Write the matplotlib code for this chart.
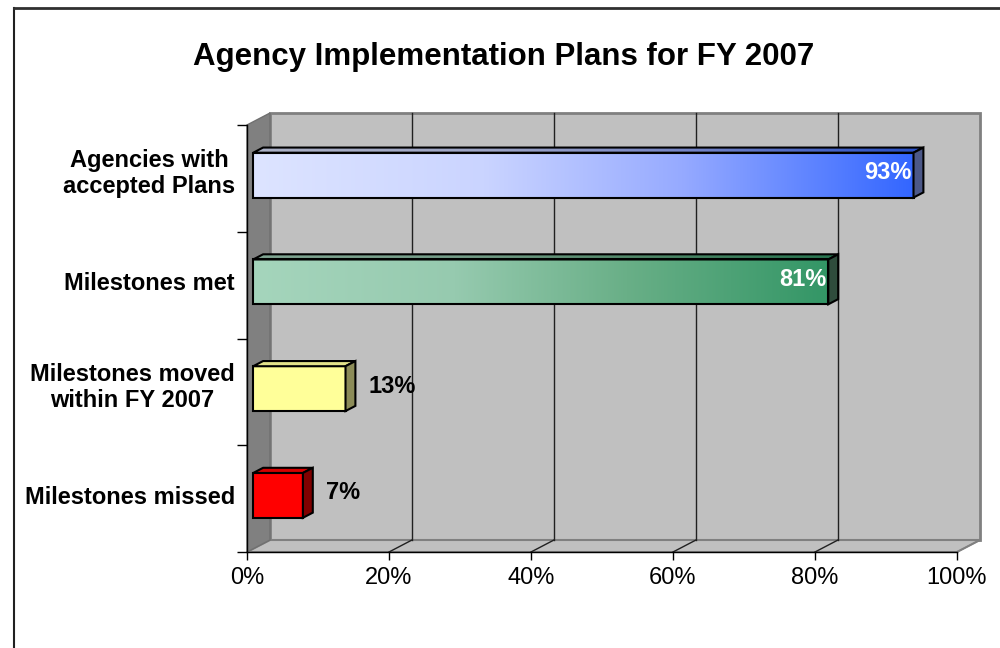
import numpy as np
import matplotlib
matplotlib.use("Agg")
import matplotlib.pyplot as plt
from matplotlib.patches import Polygon, Rectangle
from matplotlib.lines import Line2D

# ---------------- data ----------------
categories = ["Agencies with\naccepted Plans", "Milestones met",
              "Milestones moved\nwithin FY 2007", "Milestones missed"]
values = [93, 81, 13, 7]
value_labels = ["93%", "81%", "13%", "7%"]
xticks = [0, 20, 40, 60, 80, 100]
xtick_labels = ["0%", "20%", "40%", "60%", "80%", "100%"]
title = "Agency Implementation Plans for FY 2007"

# ---------------- style ----------------
plt.rcParams['font.family'] = ['Liberation Sans', 'DejaVu Sans']
W, H = 1000, 648
fig = plt.figure(figsize=(W / 100, H / 100), dpi=100)
fig.patch.set_facecolor('white')

ax = fig.add_axes([247 / W, 96 / H, 710 / W, 427 / H])
ax.patch.set_visible(False)
ncat = len(categories)
XMAX = 100

px_x = 710 / XMAX          # pixels per x unit
px_y = 427 / ncat          # pixels per category
DX = 23 / px_x             # depth offset of back wall (data units)
DY = 12 / px_y

# walls and floor
left_wall = Polygon([(0, 0), (DX, DY), (DX, ncat + DY), (0, ncat)],
                    closed=True, fc='#808080', ec='#707070', lw=1, zorder=0.5, clip_on=False)
back_wall = Polygon([(DX, DY), (XMAX + DX, DY), (XMAX + DX, ncat + DY), (DX, ncat + DY)],
                    closed=True, fc='#c0c0c0', ec='#808080', lw=2, zorder=0.4, clip_on=False)
floor = Polygon([(0, 0), (XMAX, 0), (XMAX + DX, DY), (DX, DY)],
                closed=True, fc='#c0c0c0', ec='#808080', lw=1.5, zorder=0.45, clip_on=False)
for p in (back_wall, floor, left_wall):
    ax.add_patch(p)

for t in xticks[1:-1]:
    ax.plot([t + DX, t + DX], [DY, ncat + DY], color='#202020', lw=1, zorder=0.6, clip_on=False)
for t in xticks[1:]:
    ax.plot([t, t + DX], [0, DY], color='#202020' if t < XMAX else '#808080',
            lw=1, zorder=0.6, clip_on=False)

# bar styles
def grad_stops(stops, n=256):
    pos = np.array([s[0] for s in stops])
    cols = np.array([s[1] for s in stops], dtype=float) / 255
    xs = np.linspace(0, 1, n)
    return np.stack([np.interp(xs, pos, cols[:, k]) for k in range(3)], axis=-1)

bar_fronts = [
    grad_stops([(0, (221, 228, 255)), (0.35, (202, 212, 255)), (0.65, (150, 170, 255)), (1, (51, 102, 255))]),
    grad_stops([(0, (165, 213, 188)), (0.35, (150, 202, 175)), (0.65, (105, 175, 135)), (1, (51, 150, 102))]),
    '#ffff99',
    '#ff0000',
]
bar_sides = ['#4c5888', '#2f4c3c', '#8c8c58', '#800000']
bar_tops = [None, None, '#e3e38a', '#d40000']

hh = 0.21
z0, z1 = 0.27, 0.70
dz = z1 - z0

for i, (v, lab) in enumerate(zip(values, value_labels)):
    yc = ncat - 0.5 - i
    x0 = z0 * DX
    y0 = yc - hh + z0 * DY
    y1 = yc + hh + z0 * DY
    ox, oy = dz * DX, dz * DY
    front = bar_fronts[i]
    top_pts = [(x0, y1), (x0 + v, y1), (x0 + v + ox, y1 + oy), (x0 + ox, y1 + oy)]
    side_pts = [(x0 + v, y0), (x0 + v + ox, y0 + oy), (x0 + v + ox, y1 + oy), (x0 + v, y1)]
    if isinstance(front, str):
        ax.add_patch(Rectangle((x0, y0), v, y1 - y0, fc=front, ec='black', lw=1.5, zorder=3))
        ax.add_patch(Polygon(top_pts, closed=True, fc=bar_tops[i], ec='black', lw=1.5, zorder=3))
    else:
        ax.imshow(front[np.newaxis, :, :], extent=[x0, x0 + v, y0, y1], aspect='auto',
                  interpolation='bilinear', zorder=2.9)
        ax.add_patch(Rectangle((x0, y0), v, y1 - y0, fc='none', ec='black', lw=1.5, zorder=3))
        tp = Polygon(top_pts, closed=True, fc='none', ec='black', lw=1.5, zorder=3)
        ax.add_patch(tp)
        im = ax.imshow((front * 0.78)[np.newaxis, :, :],
                       extent=[x0, x0 + v + ox, y1, y1 + oy], aspect='auto',
                       interpolation='bilinear', zorder=2.9)
        im.set_clip_path(tp)
    ax.add_patch(Polygon(side_pts, closed=True, fc=bar_sides[i], ec='black', lw=1.5, zorder=3))

    ty = yc + z0 * DY + oy / 2
    if v > 50:
        ax.text(x0 + v - 2 / px_x, ty, lab, ha='right', va='center', color='white',
                fontsize=17, fontweight='bold', zorder=4)
    else:
        ax.text(x0 + v + ox + 13 / px_x, ty, lab, ha='left', va='center', color='black',
                fontsize=17, fontweight='bold', zorder=4)

    # category label
    off = 4.5 if '\n' in categories[i] else 1.5
    ax.text(-12 / px_x, yc + off / px_y, categories[i], ha='right', va='center',
            multialignment='center', fontsize=17, fontweight='bold', linespacing=1.18,
            clip_on=False)

ax.set_xlim(0, XMAX)
ax.set_ylim(0, ncat)

# axes ticks
ax.set_xticks(xticks)
ax.set_xticklabels(xtick_labels, fontsize=17)
ax.set_yticks(range(ncat + 1))
ax.set_yticklabels([])
ax.tick_params(axis='x', which='major', direction='out', length=6, width=1, pad=5, color='black')
ax.tick_params(axis='y', which='major', direction='out', length=7, width=1, color='black')
for s in ('top', 'right'):
    ax.spines[s].set_visible(False)
for s in ('left', 'bottom'):
    ax.spines[s].set_color('black')
    ax.spines[s].set_linewidth(1)
    ax.spines[s].set_zorder(5)

fig.text(504 / W, 1 - 57 / H, title, ha='center', va='center', fontsize=22.5, fontweight='bold')

# outer border (left and top visible)
fig.add_artist(Line2D([13.5 / W, 13.5 / W], [0, 1 - 8 / H], color='#202020', lw=1.5,
                      transform=fig.transFigure))
fig.add_artist(Line2D([13.5 / W, 1], [1 - 8 / H, 1 - 8 / H], color='#303030', lw=2,
                      transform=fig.transFigure))

fig.savefig('out.png', dpi=100, facecolor='white')
